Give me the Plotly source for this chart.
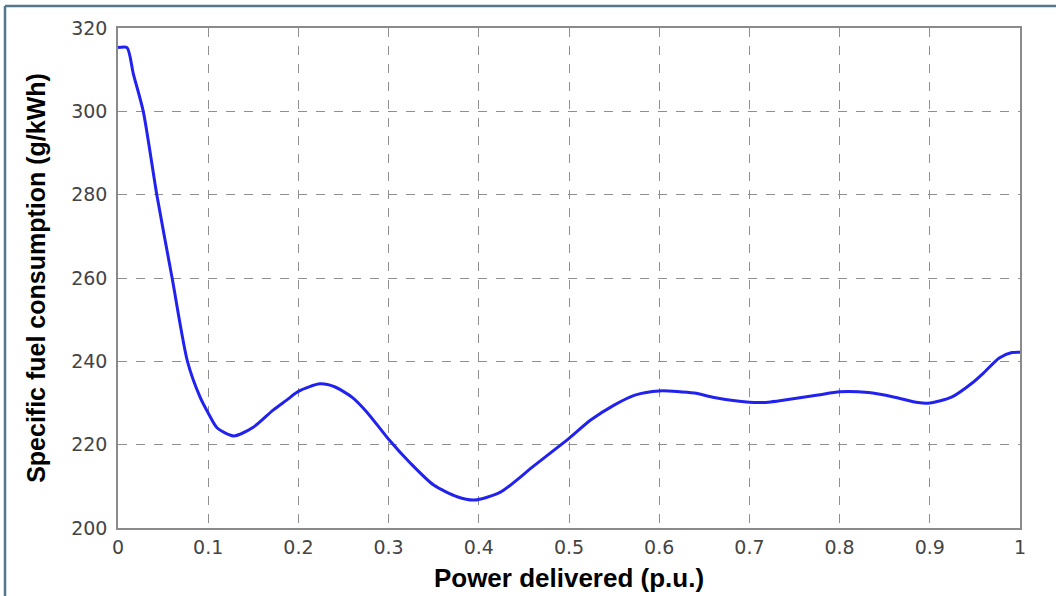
import plotly.graph_objects as go

power = [0, 0.01, 0.017, 0.028, 0.043, 0.06, 0.077, 0.091, 0.1, 0.11, 0.128, 0.15,
         0.172, 0.187, 0.2, 0.224, 0.24, 0.26, 0.276, 0.3, 0.324, 0.35, 0.376, 0.395,
         0.424, 0.461, 0.5, 0.524, 0.55, 0.573, 0.6, 0.639, 0.661, 0.7, 0.721,
         0.739, 0.776, 0.8, 0.832, 0.861, 0.887, 0.9, 0.924, 0.947, 0.961, 0.977,
         0.991, 1.0]
sfc = [315.3, 315.3, 309, 300, 280, 260, 240, 231.4, 227.6, 224, 222.1, 224.2,
       228.3, 230.7, 232.8, 234.6, 233.9, 231.3, 227.8, 221.3, 215.6, 210.3, 207.5, 206.7,
       208.6, 214.9, 221.5, 225.9, 229.5, 231.9, 232.9, 232.4, 231.3, 230.2, 230.2,
       230.7, 231.9, 232.7, 232.5, 231.4, 230.1, 230, 231.4, 234.8, 237.5, 240.8,
       242.1, 242.2]

x_ticks = [0, 0.1, 0.2, 0.3, 0.4, 0.5, 0.6, 0.7, 0.8, 0.9, 1]
x_ticklabels = ["0", "0.1", "0.2", "0.3", "0.4", "0.5", "0.6", "0.7", "0.8", "0.9", "1"]
y_ticks = [200, 220, 240, 260, 280, 300, 320]

fig = go.Figure()
fig.add_trace(go.Scatter(
    x=power, y=sfc, mode="lines",
    line=dict(color="#2222ee", width=3, shape="spline", smoothing=0.7),
    showlegend=False, hoverinfo="skip"))

axis_common = dict(
    showline=True, linecolor="#8a8a8a", linewidth=1.5, mirror=True,
    showgrid=True, gridcolor="#8f8f8f", gridwidth=1, griddash="dash",
    zeroline=False, ticks="", automargin=False,
    tickfont=dict(family="DejaVu Sans", size=19, color="#444444"),
)

fig.update_xaxes(range=[0, 1], tickvals=x_ticks, ticktext=x_ticklabels,
                 ticklabelstandoff=1,
                 title=dict(text="<b>Power delivered (p.u.)</b>",
                            font=dict(family="Liberation Sans, Arial", size=26, color="#000"),
                            standoff=12),
                 **axis_common)
fig.update_yaxes(range=[200, 320], tickvals=y_ticks, ticklabelstandoff=5,
                 title=dict(text="<b>Specific fuel consumption (g/kWh)</b>",
                            font=dict(family="Liberation Sans, Arial", size=25, color="#000"),
                            standoff=18),
                 **axis_common)

W, H = 1056, 596
ml, mr, mt, mb = 118, 36, 28, 68
pw, ph = W - ml - mr, H - mt - mb

def px_x(p):
    return (p - ml) / pw

def px_y(p):
    return (H - mb - p) / ph

frame_color = "#54788a"
fig.add_shape(type="line", xref="paper", yref="paper",
              x0=px_x(5), x1=px_x(1070), y0=px_y(6), y1=px_y(6),
              line=dict(color=frame_color, width=2.5))
fig.add_shape(type="line", xref="paper", yref="paper",
              x0=px_x(5), x1=px_x(5), y0=px_y(6), y1=px_y(610),
              line=dict(color=frame_color, width=2.5))

fig.update_layout(
    width=W, height=H,
    margin=dict(l=ml, r=mr, t=mt, b=mb, autoexpand=False),
    paper_bgcolor="white", plot_bgcolor="white",
)

fig.write_html("out.html", config={"displayModeBar": False},
               post_script="document.body.style.margin='0';document.body.style.overflow='hidden';")
